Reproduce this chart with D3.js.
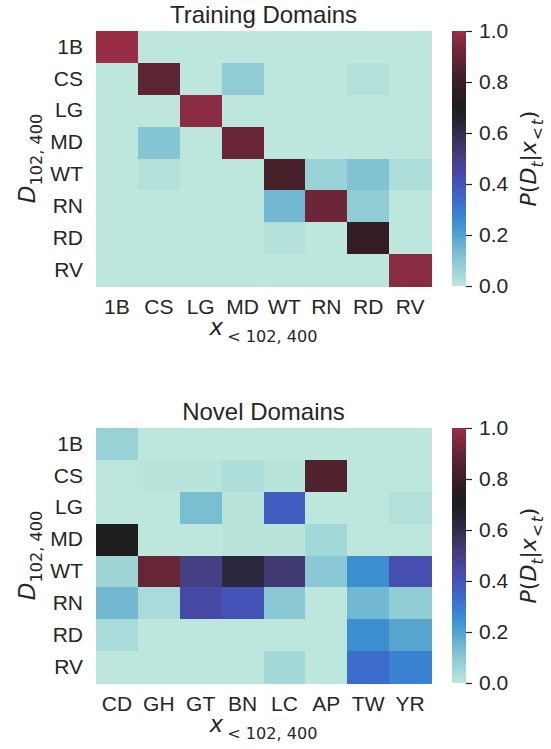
<!DOCTYPE html>
<html>
<head>
<meta charset="utf-8">
<script src="https://cdn.jsdelivr.net/npm/d3@7"></script>
<style>
  html, body { margin: 0; padding: 0; background: #ffffff; }
  svg { display: block; }
</style>
</head>
<body>
<svg id="chart" width="551" height="749"></svg>
<script>
// ---------------- DATA ----------------
const trainRows = ["1B", "CS", "LG", "MD", "WT", "RN", "RD", "RV"];
const trainCols = ["1B", "CS", "LG", "MD", "WT", "RN", "RD", "RV"];
const trainValues = [
  [1.00, 0.00, 0.00, 0.00, 0.00, 0.00, 0.00, 0.00],
  [0.00, 0.88, 0.00, 0.09, 0.00, 0.00, 0.02, 0.00],
  [0.00, 0.00, 0.97, 0.00, 0.00, 0.00, 0.00, 0.00],
  [0.00, 0.11, 0.00, 0.90, 0.00, 0.00, 0.00, 0.00],
  [0.00, 0.02, 0.00, 0.00, 0.83, 0.07, 0.115, 0.03],
  [0.00, 0.00, 0.00, 0.00, 0.145, 0.91, 0.09, 0.00],
  [0.00, 0.00, 0.00, 0.00, 0.02, 0.00, 0.78, 0.00],
  [0.00, 0.00, 0.00, 0.00, 0.00, 0.00, 0.00, 0.97]
];
const novelRows = ["1B", "CS", "LG", "MD", "WT", "RN", "RD", "RV"];
const novelCols = ["CD", "GH", "GT", "BN", "LC", "AP", "TW", "YR"];
const novelValues = [
  [0.07, 0.00, 0.00, 0.00, 0.00, 0.00, 0.00, 0.00],
  [0.00, 0.01, 0.01, 0.03, 0.01, 0.85, 0.00, 0.00],
  [0.00, 0.00, 0.13, 0.01, 0.37, 0.00, 0.00, 0.02],
  [0.70, 0.00, 0.00, 0.01, 0.01, 0.05, 0.00, 0.00],
  [0.06, 0.90, 0.50, 0.63, 0.53, 0.10, 0.25, 0.42],
  [0.145, 0.04, 0.44, 0.40, 0.10, 0.00, 0.145, 0.09],
  [0.04, 0.00, 0.00, 0.00, 0.00, 0.00, 0.25, 0.19],
  [0.00, 0.00, 0.00, 0.00, 0.05, 0.00, 0.33, 0.28]
];
const colorbarTicks = [0.0, 0.2, 0.4, 0.6, 0.8, 1.0];
const titles = ["Training Domains", "Novel Domains"];

// colormap (icefire, centred)
const cmapStops  = [0.00, 0.05, 0.10, 0.15, 0.20, 0.25, 0.30, 0.35, 0.40, 0.45, 0.50,
                    0.55, 0.60, 0.65, 0.70, 0.75, 0.80, 0.85, 0.90, 0.95, 1.00];
const cmapColors = ["#bde7dc", "#a3d8d8", "#8ac9d3", "#70b6d1", "#52a2d0", "#3d8fd3",
                    "#3a7ad3", "#3f65c8", "#4553b8", "#4847a3", "#453f84", "#3e3566",
                    "#322c4a", "#262333", "#1f1e1f", "#2a1c20", "#3b1e25", "#4f222d",
                    "#672535", "#7f293d", "#992d46"];

// ---------------- DRAW ----------------
const color = d3.scaleLinear().domain(cmapStops).range(cmapColors)
  .interpolate(d3.interpolateRgb).clamp(true);

const svg = d3.select("#chart");
const textColor = "#262626";
const sansFont = "'Liberation Sans', Arial, Helvetica, sans-serif";
const mathFont = "'DejaVu Sans', sans-serif";

const defs = svg.append("defs");
const grad = defs.append("linearGradient").attr("id", "cbgrad")
  .attr("x1", 0).attr("y1", 1).attr("x2", 0).attr("y2", 0);
d3.range(0, 1.0001, 0.01).forEach(v => {
  grad.append("stop").attr("offset", v).attr("stop-color", color(v));
});

const panels = [
  { rows: trainRows, cols: trainCols, values: trainValues, title: titles[0], top: 31, bottom: 286 },
  { rows: novelRows, cols: novelCols, values: novelValues, title: titles[1], top: 428, bottom: 683 }
];

const left = 96, right = 431;
const cbLeft = 452, cbRight = 466;

function mathLabel(g, parts, mainSize) {
  const text = g.append("text")
    .attr("font-family", mathFont)
    .attr("fill", textColor)
    .attr("font-size", mainSize)
    .attr("text-anchor", "middle");
  let inSub = false;
  const drop = mainSize * 0.3;
  parts.forEach(p => {
    const ts = text.append("tspan").text(p.t);
    if (p.it) ts.attr("font-style", "italic");
    if (p.dx) ts.attr("dx", p.dx);
    if (p.sub && !inSub) { ts.attr("dy", drop); inSub = true; }
    if (!p.sub && inSub) { ts.attr("dy", -drop); inSub = false; }
    if (p.sub) ts.attr("font-size", mainSize * 0.7);
  });
  return text;
}

panels.forEach(p => {
  const x = d3.scaleBand().domain(p.cols).range([left, right]);
  const y = d3.scaleBand().domain(p.rows).range([p.top, p.bottom]);
  const g = svg.append("g");

  // cells
  p.values.forEach((row, i) => {
    row.forEach((v, j) => {
      g.append("rect")
        .attr("x", x(p.cols[j]))
        .attr("y", y(p.rows[i]))
        .attr("width", x.bandwidth() + 0.5)
        .attr("height", y.bandwidth() + 0.5)
        .attr("fill", color(v))
        .attr("shape-rendering", "crispEdges");
    });
  });

  // axes
  const xAxis = g.append("g").attr("transform", `translate(0,${p.bottom})`)
    .call(d3.axisBottom(x).tickSize(0).tickPadding(13));
  const yAxis = g.append("g").attr("transform", `translate(${left},0)`)
    .call(d3.axisLeft(y).tickSize(0).tickPadding(13));
  [xAxis, yAxis].forEach(a => {
    a.select(".domain").remove();
    a.selectAll("text").attr("font-family", sansFont).attr("font-size", 21).attr("fill", textColor);
  });

  // title
  g.append("text")
    .attr("x", (left + right) / 2)
    .attr("y", p.top - 8)
    .attr("text-anchor", "middle")
    .attr("font-family", sansFont)
    .attr("font-size", 24)
    .attr("fill", textColor)
    .text(p.title);

  // x label
  const xl = g.append("g").attr("transform", `translate(${(left + right) / 2},${p.bottom + 49})`);
  mathLabel(xl, [{ t: "x", it: true }, { t: "< 102, 400", sub: true, dx: 4 }], 23);

  // y label
  const yl = g.append("g").attr("transform", `translate(35,${(p.top + p.bottom) / 2}) rotate(-90)`);
  mathLabel(yl, [{ t: "D", it: true }, { t: "102, 400", sub: true }], 23);

  // colorbar
  const c = d3.scaleLinear().domain([0, 1]).range([p.bottom, p.top]);
  g.append("rect")
    .attr("x", cbLeft).attr("y", p.top)
    .attr("width", cbRight - cbLeft).attr("height", p.bottom - p.top)
    .attr("fill", "url(#cbgrad)");
  const cAxis = g.append("g").attr("transform", `translate(${cbRight},0)`)
    .call(d3.axisRight(c).tickValues(colorbarTicks).tickFormat(d3.format(".1f")).tickSize(6).tickPadding(7));
  cAxis.select(".domain").remove();
  cAxis.selectAll("line").attr("stroke", textColor).attr("stroke-width", 1.2);
  cAxis.selectAll("text").attr("font-family", sansFont).attr("font-size", 21).attr("fill", textColor);

  // colorbar label
  const cl = g.append("g").attr("transform", `translate(536,${(p.top + p.bottom) / 2}) rotate(-90)`);
  mathLabel(cl, [
    { t: "P", it: true }, { t: "(" }, { t: "D", it: true }, { t: "t", it: true, sub: true },
    { t: "|" }, { t: "x", it: true }, { t: "<", sub: true, dx: 1 }, { t: "t", it: true, sub: true, dx: 2 }, { t: ")" }
  ], 22);
});
</script>
</body>
</html>
